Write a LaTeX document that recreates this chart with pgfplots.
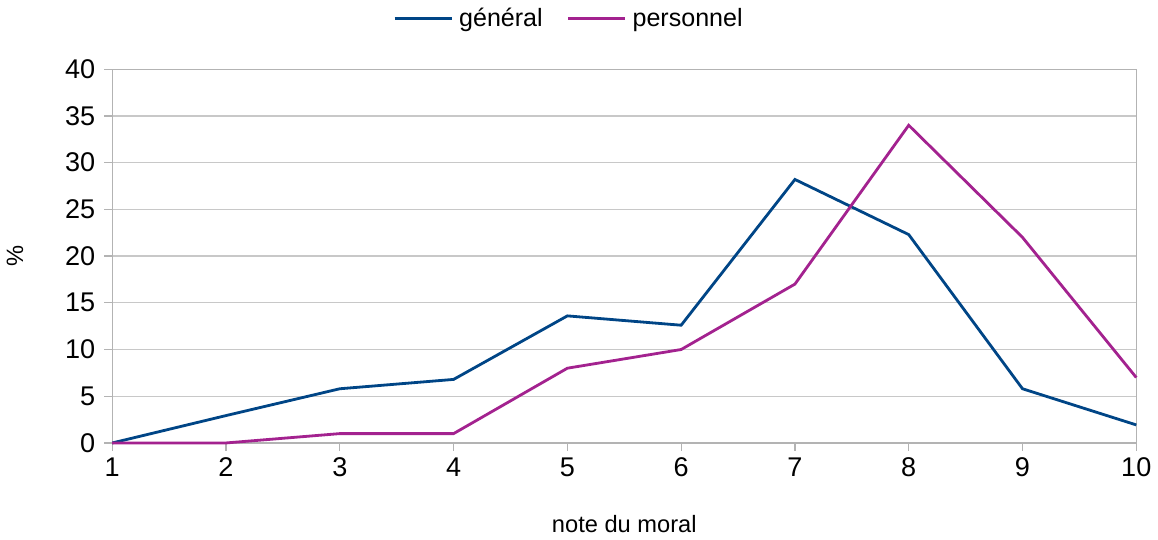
\documentclass[border=0pt]{standalone}
\usepackage{pgfplots}
\pgfplotsset{compat=1.18}
\usepackage{fontspec}
\setmainfont{Liberation Sans}
\definecolor{generalblue}{RGB}{0,69,134}
\definecolor{persopurple}{RGB}{163,34,143}
\definecolor{gridgray}{RGB}{200,200,200}
\definecolor{framegray}{RGB}{179,179,179}

\begin{document}
\begin{tikzpicture}
\begin{axis}[
  scale only axis,
  width             = 511pt,
  height            = 186.5pt,
  xmin=1, xmax=10,
  ymin=0, ymax=40,
  xtick             = {1,...,10},
  ytick             = {0,5,...,40},
  xtick pos         = bottom,
  ytick pos         = left,
  tick align        = outside,
  major tick length = 4pt,
  tick style        = {draw=framegray, line width=0.6pt},
  axis line style   = {draw=framegray, line width=0.6pt},
  ymajorgrids,
  grid style        = {draw=gridgray, line width=0.6pt},
  ticklabel style   = {font=\fontsize{13.5}{15}\selectfont},
  yticklabel style  = {xshift=-1pt},
  /pgf/number format/assume math mode=true,
  xlabel            = {note du moral},
  ylabel            = {\%},
  xlabel style      = {font=\fontsize{11.8}{14}\selectfont, yshift=-12pt},
  ylabel style      = {font=\fontsize{11.8}{14}\selectfont, yshift=14pt},
  legend style      = {at={(0.447,1.135)}, anchor=center, draw=none,
                       font=\fontsize{12.5}{14}\selectfont,
                       /tikz/every even column/.append style={column sep=10pt}},
  legend columns    = 2,
  legend cell align = left,
  legend image code/.code={\draw[#1, line width=1.4pt] (0cm,0cm) -- (1.0cm,0cm);},
  clip=false,
]
\addplot[generalblue, line width=1.4pt]
  coordinates {(1,0)(2,2.93)(3,5.8)(4,6.8)(5,13.6)(6,12.6)(7,28.2)(8,22.3)(9,5.8)(10,1.93)};
\addplot[persopurple, line width=1.4pt]
  coordinates {(1,0)(2,0)(3,1)(4,1)(5,8)(6,10)(7,17)(8,34)(9,22)(10,7)};
\legend{\hspace{1pt}général, \hspace{1pt}personnel}
\end{axis}
\end{tikzpicture}
\end{document}
